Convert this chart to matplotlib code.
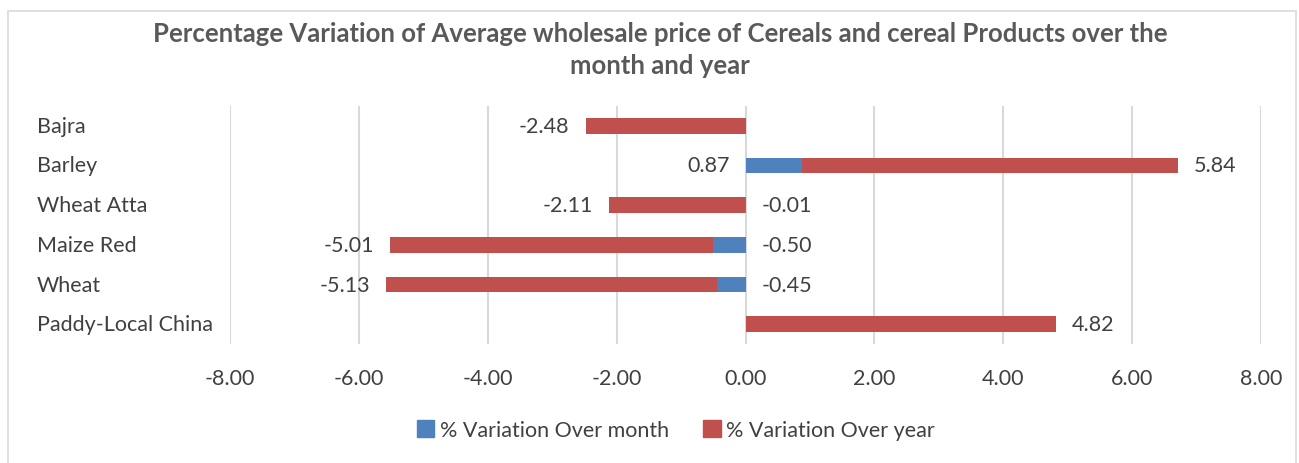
import matplotlib
matplotlib.use("Agg")
import matplotlib.pyplot as plt
import numpy as np
from matplotlib.patches import Rectangle, Patch

categories = ["Bajra", "Barley", "Wheat Atta", "Maize Red", "Wheat", "Paddy-Local China"]
month_vals = [np.nan, 0.87, -0.01, -0.50, -0.45, np.nan]
year_vals = [-2.48, 5.84, -2.11, -5.01, -5.13, 4.82]
xticks = [-8, -6, -4, -2, 0, 2, 4, 6, 8]
series_names = ["% Variation Over month", "% Variation Over year"]
title = "Percentage Variation of Average wholesale price of Cereals and cereal Products over the\nmonth and year"

plt.rcParams['font.family'] = ['Lato', 'DejaVu Sans']
BLUE = "#4F81BD"
RED = "#C0504D"
TXT = "#404040"

W, H = 1299, 464
fig = plt.figure(figsize=(W / 100, H / 100), dpi=100)
fig.patches.append(Rectangle((8 / W, -0.05), (1296 - 8) / W, 1.05 - 12 / H,
                             transform=fig.transFigure, fill=False,
                             edgecolor="#d9d9d9", linewidth=1.2))

ax = fig.add_axes([230 / W, 1 - 345 / H, (1261 - 230) / W, (345 - 107) / H])

y = np.arange(len(categories))
m = np.nan_to_num(np.array(month_vals, dtype=float))
yr = np.array(year_vals, dtype=float)
# Excel-style stacking: negatives stack on negatives, positives on positives
year_left = np.where(np.sign(yr) == np.sign(m), m, 0.0)
bh = 0.4
ax.barh(y, m, height=bh, color=BLUE, zorder=3)
ax.barh(y, yr, left=year_left, height=bh, color=RED, zorder=3)

fs = 15.5
pad = 0.25
for i in range(len(categories)):
    mv = month_vals[i]
    if not np.isnan(mv):
        if mv >= 0:
            ax.text(-pad, i, f"{mv:.2f}", ha="right", va="center", fontsize=fs, color=TXT)
        else:
            ax.text(pad, i, f"{mv:.2f}", ha="left", va="center", fontsize=fs, color=TXT)
    end = year_left[i] + yr[i]
    if yr[i] >= 0:
        ax.text(end + pad, i, f"{yr[i]:.2f}", ha="left", va="center", fontsize=fs, color=TXT)
    else:
        ax.text(end - pad, i, f"{yr[i]:.2f}", ha="right", va="center", fontsize=fs, color=TXT)

ax.set_xlim(-8, 8)
ax.set_ylim(len(categories) - 0.5, -0.5)
ax.set_xticks(xticks)
ax.set_xticklabels([f"{v:.2f}" for v in xticks], fontsize=fs, color=TXT)
ax.set_yticks([])
for sp in ax.spines.values():
    sp.set_visible(False)
ax.grid(axis="x", color="#d9d9d9", linewidth=1.5, zorder=0)
ax.tick_params(axis="x", length=0, pad=17)

for i, c in enumerate(categories):
    fig.text(37 / W, 1 - (107 + (i + 0.5) * (238 / 6)) / H, c, ha="left", va="center",
             fontsize=fs, color=TXT)

fig.text(660 / W, 1 - 50 / H, title, ha="center", va="center", fontsize=18.5,
         fontweight="bold", color="#595959", linespacing=1.45)

handles = [Patch(color=BLUE), Patch(color=RED)]
fig.legend(handles, series_names, loc="center", bbox_to_anchor=(676 / W, 1 - 431 / H),
           ncol=2, frameon=False, fontsize=fs, labelcolor=TXT, handlelength=0.8,
           handleheight=0.8, handletextpad=0.25, columnspacing=1.6)

fig.savefig("out.png", dpi=100)
